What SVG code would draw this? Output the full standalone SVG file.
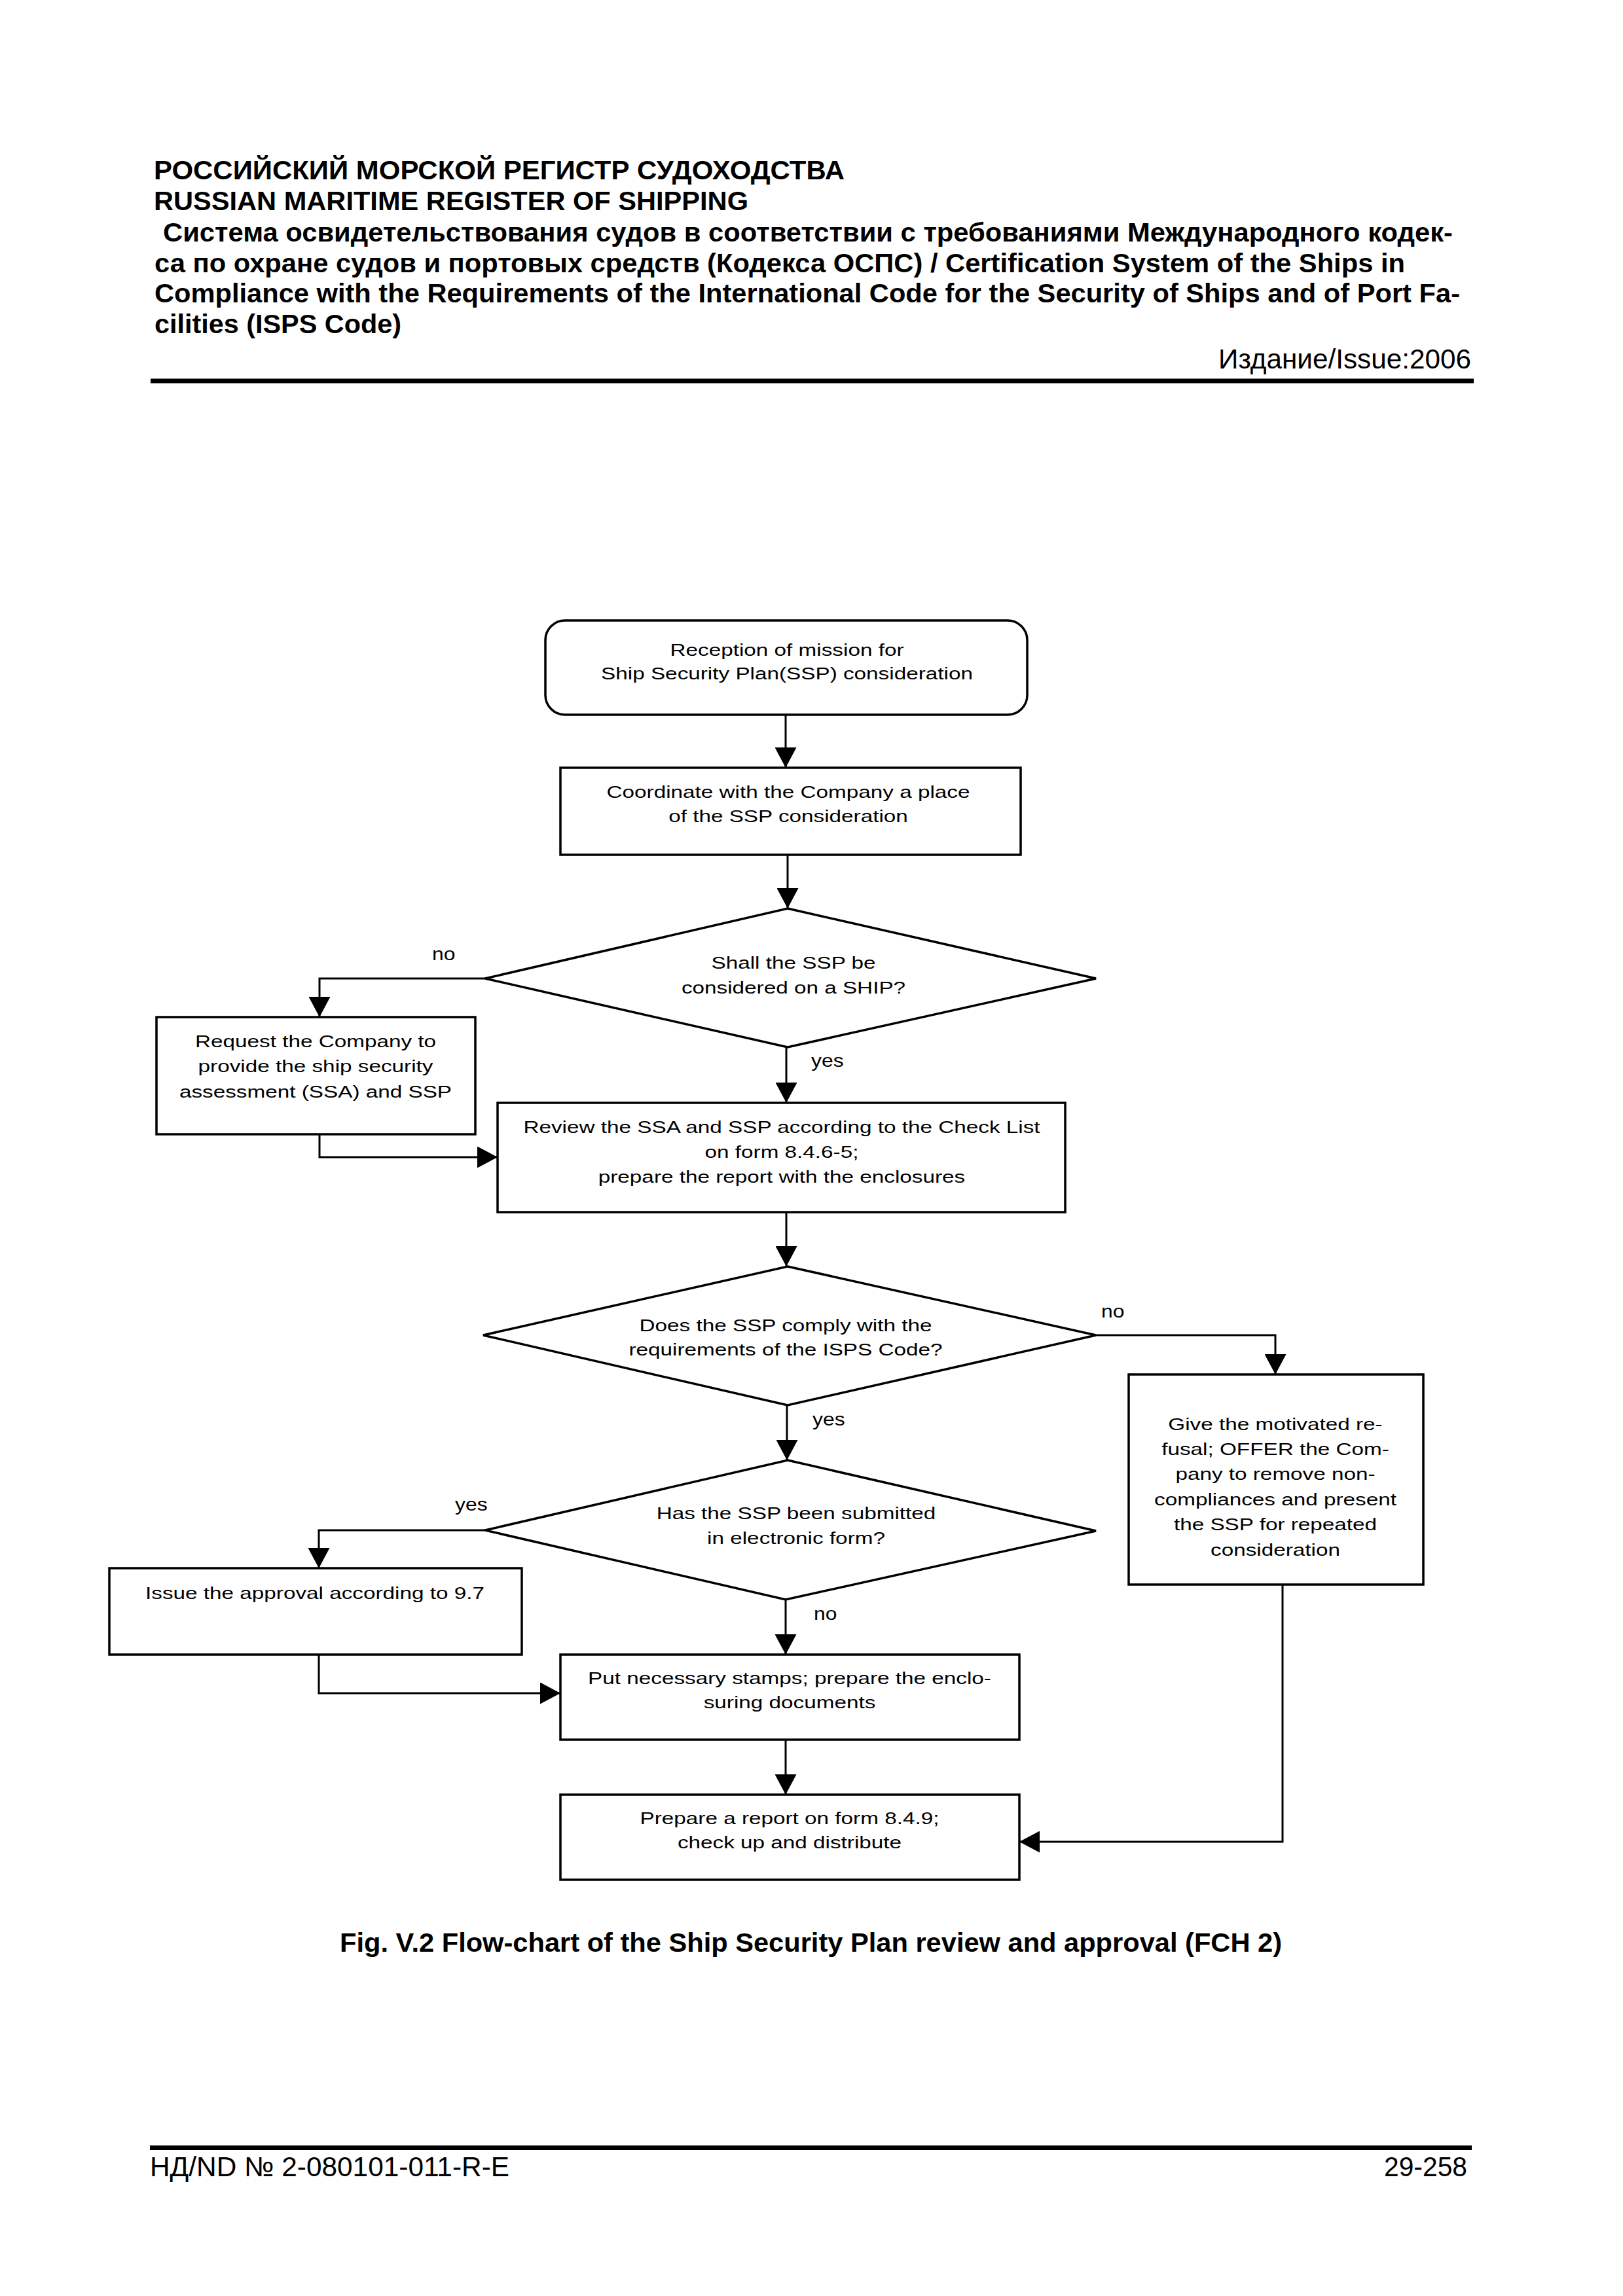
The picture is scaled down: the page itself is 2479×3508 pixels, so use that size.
<svg xmlns="http://www.w3.org/2000/svg" width="2479" height="3508" viewBox="0 0 2479 3508">
<style>
.hb{font-family:"Liberation Sans",Arial,sans-serif;font-size:41.5px;font-weight:bold;fill:#000}
.hr{font-family:"Liberation Sans",Arial,sans-serif;font-size:42px;fill:#000}
.t{font-family:"Liberation Sans",Arial,sans-serif;font-size:26px;fill:#000;text-anchor:middle}
.l{font-family:"Liberation Sans",Arial,sans-serif;font-size:27px;fill:#000}
.shape{fill:#fff;stroke:#000;stroke-width:3.5}
.conn{fill:none;stroke:#000;stroke-width:3}
</style>
<defs>
<marker id="ah" markerUnits="userSpaceOnUse" markerWidth="31" markerHeight="33" refX="31" refY="16.5" orient="auto">
<path d="M0,0 L31,16.5 L0,33 z" fill="#000"/>
</marker>
</defs>
<rect width="2479" height="3508" fill="#fff"/>
<g id="header">
<text class="hb" x="235" y="274" textLength="1055" lengthAdjust="spacingAndGlyphs">РОССИЙСКИЙ МОРСКОЙ РЕГИСТР СУДОХОДСТВА</text>
<text class="hb" x="235" y="321" textLength="908" lengthAdjust="spacingAndGlyphs">RUSSIAN MARITIME REGISTER OF SHIPPING</text>
<text class="hb" x="249" y="369" textLength="1970" lengthAdjust="spacingAndGlyphs">Система освидетельствования судов в соответствии с требованиями Международного кодек-</text>
<text class="hb" x="236" y="416" textLength="1910" lengthAdjust="spacingAndGlyphs">са по охране судов и портовых средств (Кодекса ОСПС) / Certification System of the Ships in</text>
<text class="hb" x="236" y="462" textLength="1994" lengthAdjust="spacingAndGlyphs">Compliance with the Requirements of the International Code for the Security of Ships and of Port Fa-</text>
<text class="hb" x="236" y="509" textLength="377" lengthAdjust="spacingAndGlyphs">cilities (ISPS Code)</text>
<text class="hr" x="1861" y="563" textLength="386" lengthAdjust="spacingAndGlyphs">Издание/Issue:2006</text>
<rect x="230" y="578.5" width="2021" height="7" fill="#000"/>
</g>
<g id="connectors">
<line class="conn" x1="1200" y1="1092" x2="1200" y2="1173" marker-end="url(#ah)"/>
<line class="conn" x1="1203" y1="1306" x2="1203" y2="1388" marker-end="url(#ah)"/>
<polyline class="conn" points="741,1495 488,1495 488,1554" marker-end="url(#ah)"/>
<line class="conn" x1="1201" y1="1600" x2="1201" y2="1685" marker-end="url(#ah)"/>
<polyline class="conn" points="488,1733 488,1768 760,1768" marker-end="url(#ah)"/>
<line class="conn" x1="1201" y1="1852" x2="1201" y2="1935" marker-end="url(#ah)"/>
<polyline class="conn" points="1674,2040 1948,2040 1948,2100" marker-end="url(#ah)"/>
<line class="conn" x1="1202" y1="2147" x2="1202" y2="2231" marker-end="url(#ah)"/>
<polyline class="conn" points="741,2338 487,2338 487,2396" marker-end="url(#ah)"/>
<line class="conn" x1="1200" y1="2444" x2="1200" y2="2528" marker-end="url(#ah)"/>
<polyline class="conn" points="487,2528 487,2587 856,2587" marker-end="url(#ah)"/>
<line class="conn" x1="1200" y1="2658" x2="1200" y2="2742" marker-end="url(#ah)"/>
<polyline class="conn" points="1959,2421 1959,2814 1557,2814" marker-end="url(#ah)"/>
</g>
<g id="labels">
<g transform="translate(660,1467) scale(1.18,1)"><text class="l" x="0" y="0">no</text></g>
<g transform="translate(1239,1630) scale(1.18,1)"><text class="l" x="0" y="0">yes</text></g>
<g transform="translate(1682,2013) scale(1.18,1)"><text class="l" x="0" y="0">no</text></g>
<g transform="translate(1241,2178) scale(1.18,1)"><text class="l" x="0" y="0">yes</text></g>
<g transform="translate(695,2308) scale(1.18,1)"><text class="l" x="0" y="0">yes</text></g>
<g transform="translate(1243,2475) scale(1.18,1)"><text class="l" x="0" y="0">no</text></g>
</g>
<g id="n1">
<rect class="shape" x="833" y="948" width="736" height="144" rx="30" ry="30"/>
<g transform="translate(1202,0) scale(1.28,1)">
<text class="t" x="0" y="1002">Reception of mission for</text>
<text class="t" x="0" y="1038">Ship Security Plan(SSP) consideration</text>
</g>
</g>
<g id="n2">
<rect class="shape" x="856" y="1173" width="703" height="133"/>
<g transform="translate(1204,0) scale(1.28,1)">
<text class="t" x="0" y="1219">Coordinate with the Company a place</text>
<text class="t" x="0" y="1256">of the SSP consideration</text>
</g>
</g>
<g id="d1">
<polygon class="shape" points="1203,1388 1674,1495 1203,1600 741,1495"/>
<g transform="translate(1212,0) scale(1.28,1)">
<text class="t" x="0" y="1480">Shall the SSP be</text>
<text class="t" x="0" y="1518">considered on a SHIP?</text>
</g>
</g>
<g id="n3">
<rect class="shape" x="239" y="1554" width="487" height="179"/>
<g transform="translate(482,0) scale(1.28,1)">
<text class="t" x="0" y="1600">Request the Company to</text>
<text class="t" x="0" y="1638">provide the ship security</text>
<text class="t" x="0" y="1677">assessment (SSA) and SSP</text>
</g>
</g>
<g id="n4">
<rect class="shape" x="760" y="1685" width="867" height="167"/>
<g transform="translate(1194,0) scale(1.28,1)">
<text class="t" x="0" y="1731">Review the SSA and SSP according to the Check List</text>
<text class="t" x="0" y="1769">on form 8.4.6-5;</text>
<text class="t" x="0" y="1807">prepare the report with the enclosures</text>
</g>
</g>
<g id="d2">
<polygon class="shape" points="1203,1935 1674,2040 1203,2147 738,2040"/>
<g transform="translate(1200,0) scale(1.28,1)">
<text class="t" x="0" y="2034">Does the SSP comply with the</text>
<text class="t" x="0" y="2071">requirements of the ISPS Code?</text>
</g>
</g>
<g id="n5">
<rect class="shape" x="1724" y="2100" width="450" height="321"/>
<g transform="translate(1948,0) scale(1.28,1)">
<text class="t" x="0" y="2185">Give the motivated re-</text>
<text class="t" x="0" y="2223">fusal; OFFER the Com-</text>
<text class="t" x="0" y="2261">pany to remove non-</text>
<text class="t" x="0" y="2300">compliances and present</text>
<text class="t" x="0" y="2338">the SSP for repeated</text>
<text class="t" x="0" y="2377">consideration</text>
</g>
</g>
<g id="d3">
<polygon class="shape" points="1203,2231 1674,2339 1200,2444 741,2338"/>
<g transform="translate(1216,0) scale(1.28,1)">
<text class="t" x="0" y="2321">Has the SSP been submitted</text>
<text class="t" x="0" y="2359">in electronic form?</text>
</g>
</g>
<g id="n6">
<rect class="shape" x="167" y="2396" width="630" height="132"/>
<g transform="translate(481,0) scale(1.28,1)">
<text class="t" x="0" y="2443">Issue the approval according to 9.7</text>
</g>
</g>
<g id="n7">
<rect class="shape" x="856" y="2528" width="701" height="130"/>
<g transform="translate(1206,0) scale(1.28,1)">
<text class="t" x="0" y="2573">Put necessary stamps; prepare the enclo-</text>
<text class="t" x="0" y="2610">suring documents</text>
</g>
</g>
<g id="n8">
<rect class="shape" x="856" y="2742" width="701" height="130"/>
<g transform="translate(1206,0) scale(1.28,1)">
<text class="t" x="0" y="2787">Prepare a report on form 8.4.9;</text>
<text class="t" x="0" y="2824">check up and distribute</text>
</g>
</g>
<g id="caption">
<text class="hb" x="519" y="2982" textLength="1439" lengthAdjust="spacingAndGlyphs">Fig. V.2 Flow-chart of the Ship Security Plan review and approval (FCH 2)</text>
</g>
<g id="footer">
<rect x="229" y="3278" width="2019" height="7" fill="#000"/>
<text class="hr" x="229" y="3325" textLength="549" lengthAdjust="spacingAndGlyphs">НД/ND № 2-080101-011-R-E</text>
<text class="hr" x="2114" y="3325" textLength="127" lengthAdjust="spacingAndGlyphs">29-258</text>
</g>
</svg>
